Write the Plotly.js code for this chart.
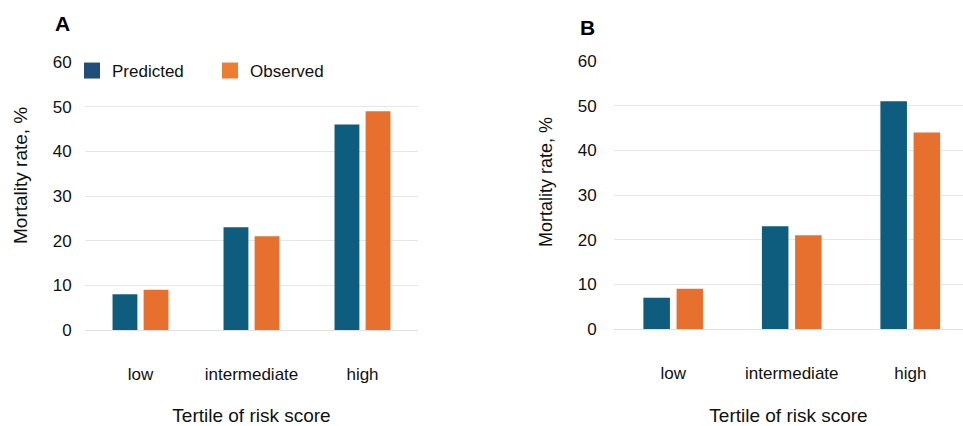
<!DOCTYPE html>
<html>
<head>
<meta charset="utf-8">
<script src="https://cdn.plot.ly/plotly-3.0.1.min.js"></script>
<style>html,body{margin:0;padding:0;background:#fff;}#chart{width:963px;height:426px;}</style>
</head>
<body>
<div id="chart"></div>
<script>
// Data
const categories = ["low", "intermediate", "high"];
const predictedA = [8, 23, 46];
const observedA = [9, 21, 49];
const predictedB = [7, 23, 51];
const observedB = [9, 21, 44];
const yTicks = [0, 10, 20, 30, 40, 50, 60];
const yTitle = "Mortality rate, %";
const xTitle = "Tertile of risk score";

const cPred = "#0E5D7F";
const cObs = "#E8702F";
const cPredLeg = "#1F4E79";
const cObsLeg = "#ED7D31";
const font = "Liberation Sans, Arial, Helvetica, sans-serif";

const traces = [
  {type: "bar", name: "Predicted", x: categories, y: predictedA, xaxis: "x", yaxis: "y",
   marker: {color: cPred}, showlegend: false, hoverinfo: "y"},
  {type: "bar", name: "Observed", x: categories, y: observedA, xaxis: "x", yaxis: "y",
   marker: {color: cObs}, showlegend: false, hoverinfo: "y"},
  {type: "bar", name: "Predicted", x: categories, y: predictedB, xaxis: "x2", yaxis: "y2",
   marker: {color: cPred}, showlegend: false, hoverinfo: "y"},
  {type: "bar", name: "Observed", x: categories, y: observedB, xaxis: "x2", yaxis: "y2",
   marker: {color: cObs}, showlegend: false, hoverinfo: "y"},
  // legend entries
  {type: "scatter", mode: "markers", name: "Predicted", x: [null], y: [null], xaxis: "x", yaxis: "y",
   marker: {symbol: "square", size: 18, color: cPredLeg}, showlegend: true, hoverinfo: "skip"},
  {type: "scatter", mode: "markers", name: "Observed", x: [null], y: [null], xaxis: "x", yaxis: "y",
   marker: {symbol: "square", size: 18, color: cObsLeg}, showlegend: true, hoverinfo: "skip"}
];

const yCommon = {
  range: [0, 60], tickvals: yTicks, ticktext: yTicks.map(String),
  showgrid: true, gridcolor: "#e6e6e6", gridwidth: 1,
  zeroline: true, zerolinecolor: "#e0e0e0", zerolinewidth: 1,
  showline: false, ticks: "outside", tickcolor: "rgba(0,0,0,0)",
  tickfont: {family: font, size: 17, color: "#111"},
  fixedrange: true
};
const xCommon = {
  type: "category", showgrid: false, zeroline: false, showline: false,
  ticks: "outside", ticklen: 29, tickcolor: "rgba(0,0,0,0)",
  tickfont: {family: font, size: 17, color: "#111"},
  title: {text: xTitle, font: {family: font, size: 19, color: "#111"}, standoff: 26},
  fixedrange: true
};

const layout = {
  width: 963, height: 426,
  margin: {l: 0, r: 0, t: 0, b: 0},
  paper_bgcolor: "#fff", plot_bgcolor: "#fff",
  barmode: "group", bargap: 0.44, bargroupgap: 0.2,
  font: {family: font, color: "#111"},
  xaxis: Object.assign({}, xCommon, {domain: [85/963, 418/963], range: [-0.5, 2.5], anchor: "y"}),
  yaxis: Object.assign({}, yCommon, {domain: [1 - 330/426, 1 - 62/426], anchor: "x", ticklen: 9}),
  xaxis2: Object.assign({}, xCommon, {domain: [614/963, 1], range: [-0.5, 2.445], anchor: "y2"}),
  yaxis2: Object.assign({}, yCommon, {domain: [1 - 329/426, 1 - 61/426], anchor: "x2", ticklen: 13}),
  showlegend: true,
  legend: {
    orientation: "h", x: 72/963, y: 1 - 53/426, xanchor: "left", yanchor: "top",
    entrywidth: 93, entrywidthmode: "pixels",
    font: {family: font, size: 17, color: "#111"}, bgcolor: "rgba(0,0,0,0)",
    itemclick: false, itemdoubleclick: false
  },
  annotations: [
    {text: "<b>A</b>", xref: "paper", yref: "paper", x: 62/963, y: 1 - 23/426, xanchor: "center", yanchor: "middle",
     showarrow: false, font: {family: font, size: 21, color: "#000"}},
    {text: "<b>B</b>", xref: "paper", yref: "paper", x: 587/963, y: 1 - 27/426, xanchor: "center", yanchor: "middle",
     showarrow: false, font: {family: font, size: 21, color: "#000"}},
    {text: yTitle, xref: "paper", yref: "paper", x: 20/963, y: 1 - 176/426, xanchor: "center", yanchor: "middle",
     textangle: -90, showarrow: false, font: {family: font, size: 19, color: "#111"}},
    {text: yTitle, xref: "paper", yref: "paper", x: 546/963, y: 1 - 182/426, xanchor: "center", yanchor: "middle",
     textangle: -90, showarrow: false, font: {family: font, size: 18, color: "#111"}}
  ]
};

Plotly.newPlot("chart", traces, layout, {displayModeBar: false, staticPlot: true});
</script>
</body>
</html>
